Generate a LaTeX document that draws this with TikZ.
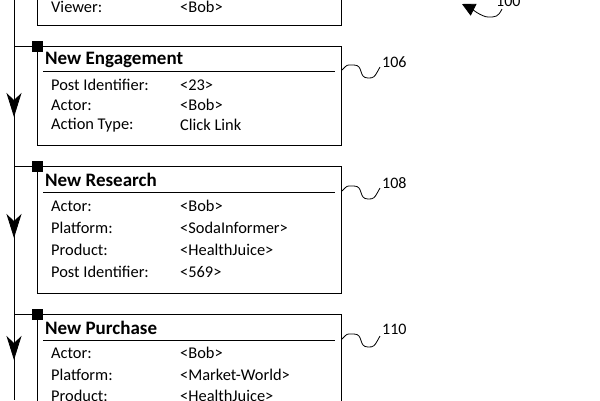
\documentclass[tikz,border=0pt]{standalone}
\usepackage{fontspec}
\setmainfont{Carlito}
\usetikzlibrary{arrows.meta,positioning}
\tikzset{
  rec/.style={rectangle, draw=black, thick, minimum width=304pt, anchor=north west, inner sep=0pt},
  ttl/.style={anchor=west, font=\fontsize{19}{21}\selectfont\bfseries, inner sep=0pt},
  fld/.style={anchor=west, font=\fontsize{16.4}{18}\selectfont, inner sep=0pt},
  ref/.style={anchor=west, font=\fontsize{16}{18}\selectfont, inner sep=0pt},
  dot/.style={rectangle, fill=black, minimum size=11pt, inner sep=0pt},
  wave/.style={thick},
  flow/.style={thick, -{Stealth[length=24pt,width=15pt,inset=7pt]}}
}
\begin{document}
\begin{tikzpicture}[x=1pt,y=-1pt]
\useasboundingbox (0,0) rectangle (600,400);
\clip (0,0) rectangle (600,400);
% Kästen
\node (viewbox) [rec, minimum height=60pt] at (37,-35) {};
\node (engage) [rec, minimum height=99pt] at (37,46) {};
\node (research) [rec, minimum height=127pt] at (37,166) {};
\node (purchase) [rec, minimum height=120pt] at (37,314) {};

% Zeitachse
\coordinate (top) at (14,0);
\coordinate (bot) at (14,400);
\draw[thick] (top) -- (bot);
\foreach \b in {engage,research,purchase}{
  \node (\b dot) [dot] at (\b.north west) {};
  \draw[thick] (\b.north west) -- (\b.north west -| top);
}
\coordinate (a1) at (14,90);  \coordinate (a1e) at (14,117);
\coordinate (a2) at (14,210); \coordinate (a2e) at (14,238);
\coordinate (a3) at (14,332); \coordinate (a3e) at (14,360);
\draw[flow] (a1) -- (a1e);
\draw[flow] (a2) -- (a2e);
\draw[flow] (a3) -- (a3e);

% Inhalte
\node (v1) [fld] at (51,7) {Viewer:};
\node (v1v) [fld] at (180,7) {<Bob>};

\node (t106) [ttl] at (45,60) {New Engagement};
\draw[thick] (43,71) -- (335,71);
\node (e1) [fld] at (51,85) {Post Identifier:};   \node (e1v) [fld] at (180,85) {<23>};
\node (e2) [fld] at (51,105) {Actor:};            \node (e2v) [fld] at (180,105) {<Bob>};
\node (e3) [fld] at (51,125) {Action Type:};      \node (e3v) [fld] at (180,125) {Click Link};

\node (t108) [ttl] at (45,180) {New Research};
\draw[thick] (43,192) -- (335,192);
\node (r1) [fld] at (51,206) {Actor:};            \node (r1v) [fld] at (180,206) {<Bob>};
\node (r2) [fld] at (51,228) {Platform:};         \node (r2v) [fld] at (180,228) {<SodaInformer>};
\node (r3) [fld] at (51,250) {Product:};          \node (r3v) [fld] at (180,250) {<HealthJuice>};
\node (r4) [fld] at (51,272) {Post Identifier:};  \node (r4v) [fld] at (180,272) {<569>};

\node (t110) [ttl] at (45,328) {New Purchase};
\draw[thick] (43,340) -- (335,340);
\node (p1) [fld] at (51,353) {Actor:};            \node (p1v) [fld] at (180,353) {<Bob>};
\node (p2) [fld] at (51,375) {Platform:};         \node (p2v) [fld] at (180,375) {<Market-World>};
\node (p3) [fld] at (51,396) {Product:};          \node (p3v) [fld] at (180,396) {<HealthJuice>};

% Bezugszeichen
\node (l106) [ref] at (382,62) {106};
\node (l108) [ref] at (382,183) {108};
\node (l110) [ref] at (382,329) {110};
\node (l100) [ref] at (496,1) {100};
\foreach \b/\y in {106/70,108/191,110/339}{
  \coordinate (w\b) at (342,\y);
  \coordinate (e\b) at (380,\y-3);
  \draw[wave] (w\b) .. controls +(6,-6) and +(-8,0) .. +(12,-5) .. controls +(10,0) and +(-10,0) .. +(26,8) .. controls +(6,0) .. (e\b);
}
\coordinate (s100) at (502,9);
\coordinate (tip100) at (462,4);
\draw[wave, -{Triangle[length=13pt,width=13pt]}] (s100) .. controls +(-4,8) and +(8,0) .. (488,17) .. controls +(-6,0) and +(8,4) .. (tip100);
\end{tikzpicture}
\end{document}
